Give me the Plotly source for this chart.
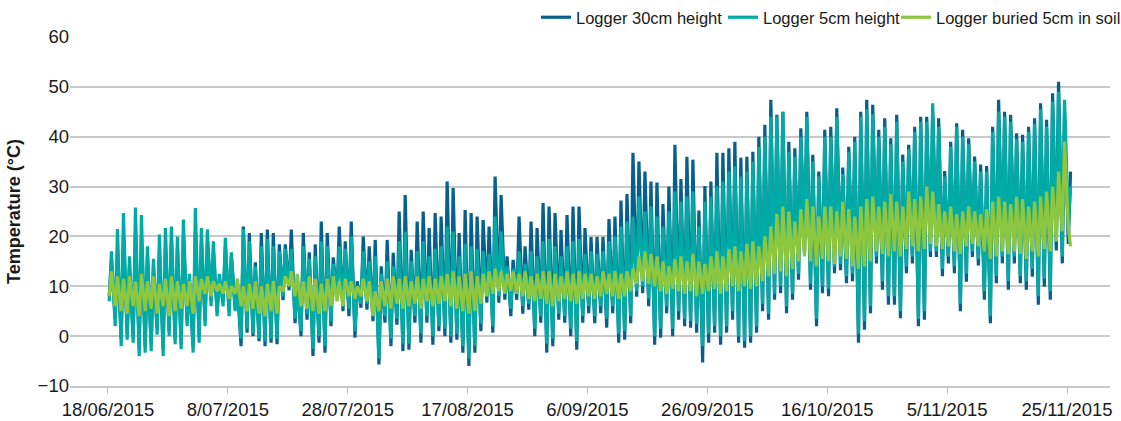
import pandas as pd
import plotly.graph_objects as go

# ---------------- data (daily low / high) ----------------
start_date = "2015-06-18"
series_names = ["Logger 30cm height", "Logger 5cm height", "Logger buried 5cm in soil"]
series_colors = ["#06608e", "#00aba6", "#8dc63f"]

t30_max = [
    15, 17, 20, 14, 21, 20, 16, 14, 17, 18, 19, 17.5, 20, 11.5, 21, 19, 19, 17, 11.5, 18, 16, 10,
    22, 20.7, 14.8, 20.7, 21.4, 20.7, 18.4, 18.4, 21.4, 11, 20.7, 16.8, 18.4, 23, 20.7, 15.8, 22, 19,
    23, 11, 20, 18, 19.3, 14, 19.3, 16.7, 25, 28.3, 17.3, 23, 25, 21.7, 24.7, 24, 31, 29.7, 20.7, 25.3,
    24.7, 24, 23.3, 22, 32, 28.3, 16, 15.3, 24, 18, 23, 21.7, 26.7, 26, 24.7, 21.3, 24.3, 26, 26, 21.7,
    19.9, 19.9, 19.9, 23.5, 24, 27.2, 28.5, 36.8, 35, 33, 31, 30.8, 26.5, 30, 38.4, 31.5, 36, 35.4, 25.2, 30.1,
    31, 36.8, 36.8, 37.7, 39, 35.8, 36, 37, 40, 42.4, 47.4, 44.4, 45, 39, 37.7, 41.7, 45, 36.4, 33, 41.4,
    42, 45.7, 33.8, 38, 40, 45, 47.4, 46.4, 41.4, 43.7, 39.7, 44.4, 36.4, 38.4, 42, 44, 44, 45, 43.7, 33.1,
    39, 42.7, 41.4, 39.7, 36, 34.4, 34.1, 42, 47.4, 45, 44.4, 40.7, 40.4, 42, 43.7, 46.7, 43.4, 48.7, 51, 45,
    33,
]
t30_min = [
    8, 3.5, -0.5, 0.5, 0, -2.5, -2, -1.5, 1.5, -2.5, 1, -0.5, -1.5, 3, -2, 0, 3, 7, 5, 7, 5, 6,
    -2, 0.7, 0, -1, -2, -1.3, -1.6, 7.2, 9.2, 2.6, 0, 3.3, -4, -1.3, -3.3, 2, 7.5, 5,
    4, -0.3, 5.7, 5.3, 3, -5.7, 2.7, -2, 2.3, -3, -2.7, 2.7, -1.3, 2.7, -1.7, 1, 0, -1.3, -0.7, -3.3,
    -6, -3.3, 1, 6.7, 0.7, 6.7, 7.3, 4, 7.3, 4.5, 5.3, 0, 2.7, -3.3, -2, 3.3, 2.7, 0, -2.7, 2.7,
    4.6, 2.6, 4.6, 1.7, 4.6, -1.3, -0.7, 2.6, 7.9, 8.6, 6, -1.7, -0.3, 4.6, 0, 3.3, 2, 1.7, 0.7, -5.3,
    -1.3, 0.7, -1.7, 0.7, 3.3, -1.3, -2.3, -1.3, 0.7, 5, 3.3, 7.3, 8.6, 4.6, 7.3, 11.3, 16.6, 9.3, 2, 8.6,
    8, 12.6, 13.2, 10.6, 11, -1.3, 1.3, 4.6, 14.6, 9.3, 6.3, 6.3, 3.6, 12.6, 14.6, 2, 3.3, 15.9, 15.9, 12,
    14.6, 12.6, 5, 10.9, 15.9, 14.2, 7.3, 2.6, 10.6, 14.6, 9.3, 14.6, 10.6, 9.3, 11.9, 6.3, 9.9, 7.3, 17.2, 14.6,
    18.5,
]
t5_max = [
    17, 21.5, 24.7, 16, 25.8, 24.3, 18, 15.5, 20.4, 21.7, 22, 20, 23.4, 12.5, 25.7, 21.7, 21.4, 19, 12.5, 19.7, 16.8, 10.5,
    21.5, 19, 14, 18, 19.5, 18, 17, 17.5, 17.5, 10.5, 18, 15.5, 16, 19, 18, 14.5, 18, 17.5,
    20, 10, 17, 15, 16, 12.5, 15, 14, 19, 21, 15, 17, 19, 16, 17.5, 18, 22, 21, 16, 18.5,
    18, 17.5, 17, 16.5, 24, 21, 14, 13.5, 17, 14.5, 17, 16, 19, 19.5, 18, 16, 18, 19, 19.5, 16.5,
    17, 16.5, 17, 19, 20, 22, 23, 24, 28, 25, 26, 24, 22, 25, 29, 27, 28, 29, 22, 27,
    28, 30, 31, 33, 34, 32, 33, 35, 38, 40, 44, 44, 45, 37, 36, 40, 44, 35, 32, 40,
    40, 44, 32.5, 37, 39, 44, 45.5, 44.5, 40, 42, 38.5, 43, 35, 37.5, 41, 43, 43, 46.7, 42, 32,
    38, 42, 40, 38.5, 35, 33, 33, 41, 45, 44, 43, 39.5, 39, 41, 42.5, 45.5, 42, 47, 49, 47.4,
    30,
]
t5_min = [
    7, 2, -2, -0.7, -1.3, -4, -3.3, -3, 0.3, -4, 0, -1.6, -2.6, 2, -3.3, -1.3, 2, 6, 4, 6, 4, 5,
    -0.5, 1.5, 0.5, -0.5, -1, -0.5, -0.5, 8, 10, 3.5, 1, 4.5, -2.5, 0, -2, 3, 8.5, 6,
    5.5, 1, 6.5, 6.5, 4.5, -4.5, 4, -0.5, 3.5, -1.5, -1.5, 4, 0.5, 4, 0, 2, 1.5, 0, 0.5, -2,
    -4.5, -2, 2.5, 8, 2, 8, 8.5, 5.5, 8.5, 6, 6.5, 1.5, 4, -1.5, -0.5, 4.5, 4, 1.5, -1, 4,
    6, 4, 6, 3.5, 6, 0.5, 1, 4, 9, 10, 7.5, 0, 1.5, 6, 1.5, 5, 3.5, 3, 2.5, -2,
    0.5, 2, 0, 2, 5, 0, -1, 0, 2, 6.5, 4.5, 8.5, 10, 6, 8.5, 12.5, 17.5, 10.5, 3.5, 10,
    9.5, 14, 14.5, 12, 12.5, 0.5, 3, 6, 16, 11, 8, 8, 5, 14, 16, 3.5, 5, 17, 17, 13.5,
    16, 14, 6.5, 12.5, 17, 15.5, 9, 4, 12, 16, 11, 16, 12, 11, 13.5, 8, 11.5, 9, 19, 16,
    22,
]
soil_max = [
    13, 12, 11.5, 12, 11, 12.5, 11, 12, 10.5, 11.5, 12, 11, 10.5, 11, 12, 11.5, 12, 11, 10.5, 11,
    10, 11.5, 10, 10.5, 11, 10, 10.5, 11, 10, 12, 13, 12.5, 11, 12, 11.5, 10.5, 11.5, 12, 11, 11.5,
    11, 10, 11.5, 11, 9, 11, 11.5, 12, 11.5, 12, 11, 12, 11.5, 12, 11.5, 12, 12.5, 13, 12, 12.5,
    13, 12, 12.5, 13, 13.5, 13, 12.5, 13, 12.5, 13, 12, 12.5, 13, 13, 12.5, 12, 13, 12.5, 13, 12.5,
    12.5, 12, 13, 12.5, 13, 12.5, 13, 13.5, 16, 17, 16.5, 16, 15, 14, 15.5, 16, 15, 16.5, 15, 14.5,
    16, 17, 16, 17.5, 18, 17, 18.5, 19, 18, 20, 22, 24.5, 26, 25, 23, 25.5, 27.5, 26, 24, 26,
    26, 25, 27, 25.5, 24, 26, 27.5, 28, 26, 27, 28.5, 27, 26, 29, 27.5, 28, 30, 29, 26.5, 25,
    26, 24.5, 25, 26, 25, 24.5, 25.5, 27, 28, 27, 26.5, 28, 27.5, 26, 27, 28, 29, 30, 33, 39,
    18,
]
soil_min = [
    8, 6, 5, 4.5, 6, 4, 5, 5.5, 4.5, 6, 4, 5, 5.5, 6, 4.5, 7, 8.5, 8, 9, 8.5,
    7.5, 8.5, 6, 5, 5.5, 4.5, 4, 5, 4.5, 9, 10, 8, 6, 5.5, 5, 4.5, 5, 6, 7, 6,
    8, 7.5, 8, 7, 4, 5, 6, 5.5, 6.5, 5.5, 6, 6.5, 5.5, 7, 6, 6.5, 7, 6, 5.5, 5,
    4.5, 5, 6.5, 8, 8.5, 9, 8.5, 9, 8.5, 8, 7.5, 7, 7.5, 6.5, 6, 7, 7.5, 7, 6.5, 7.5,
    8, 7.5, 8, 8.5, 8, 7.5, 8, 9, 10.5, 11, 10.5, 10, 9, 8.5, 9.5, 9, 8.5, 9, 8, 8.5,
    9, 9.5, 8.5, 9, 10, 9, 10, 9.5, 10, 11, 12, 12.5, 13, 12, 13.5, 15, 16, 15, 14, 15.5,
    15, 14.5, 16, 15.5, 14, 13.5, 14, 15, 17, 16.5, 16, 17, 16, 17.5, 18, 17, 17.5, 18.5, 18, 17.5,
    18, 17, 16.5, 18, 18.5, 18, 17, 15.5, 16, 17, 16.5, 17, 16.5, 15.5, 17, 16, 17.5, 17, 19, 21,
    22,
]

y_ticks = [-10, 0, 10, 20, 30, 40, 50, 60]

# ---------------- build traces ----------------
days = pd.date_range(start_date, periods=len(t30_max), freq="D")


def daily_points(lows, highs):
    xs, ys = [], []
    for d, lo, hi in zip(days, lows, highs):
        xs += [d + pd.Timedelta(hours=5), d + pd.Timedelta(hours=14)]
        ys += [lo, hi]
    return xs, ys


legend_ids = ["legend", "legend2", "legend3"]
legend_left_px = [536, 723, 896]

fig = go.Figure()
for name, color, lows, highs, lg in zip(
    series_names, series_colors,
    [t30_min, t5_min, soil_min], [t30_max, t5_max, soil_max], legend_ids,
):
    xs, ys = daily_points(lows, highs)
    fig.add_trace(go.Scatter(x=xs, y=ys, mode="lines", name=name, legend=lg,
                             showlegend=True, line=dict(color=color, width=3.2)))

legend_style = dict(orientation="h", xanchor="left", xref="container",
                    y=1.0, yanchor="top", yref="container", visible=True,
                    font=dict(size=16.5), bgcolor="rgba(0,0,0,0)")
fig.update_layout(
    width=1121, height=421,
    margin=dict(l=70, r=11, t=37, b=35, autoexpand=False),
    plot_bgcolor="white", paper_bgcolor="white",
    font=dict(family="Liberation Sans, Arial, sans-serif", size=18.5, color="#1a1a1a"),
    hovermode=False,
    showlegend=True,
    **{lg: dict(x=px / 1121, **legend_style) for lg, px in zip(legend_ids, legend_left_px)},
)
fig.update_xaxes(
    type="date", automargin=False,
    range=["2015-06-11 16:00", "2015-12-02 04:00"],
    tick0="2015-06-18", dtick=20 * 86400000,
    tickformat="%-d/%m/%Y",
    ticks="outside", ticklen=6, tickcolor="#c0c0c0", tickwidth=1,
    showgrid=False, showline=True, linecolor="#c8c8c8", linewidth=1.5,
    zeroline=False,
)
fig.update_yaxes(
    range=[-10, 60], tickvals=y_ticks, automargin=False,
    showgrid=True, gridcolor="#c8c8c8", gridwidth=1.5,
    zeroline=False, showline=False, ticks="",
    title=dict(text="<b>Temperature (°C)</b>", font=dict(size=18), standoff=12),
)

fig.write_html("out.html", config={"displayModeBar": False},
               post_script="document.body.style.margin='0px';")
